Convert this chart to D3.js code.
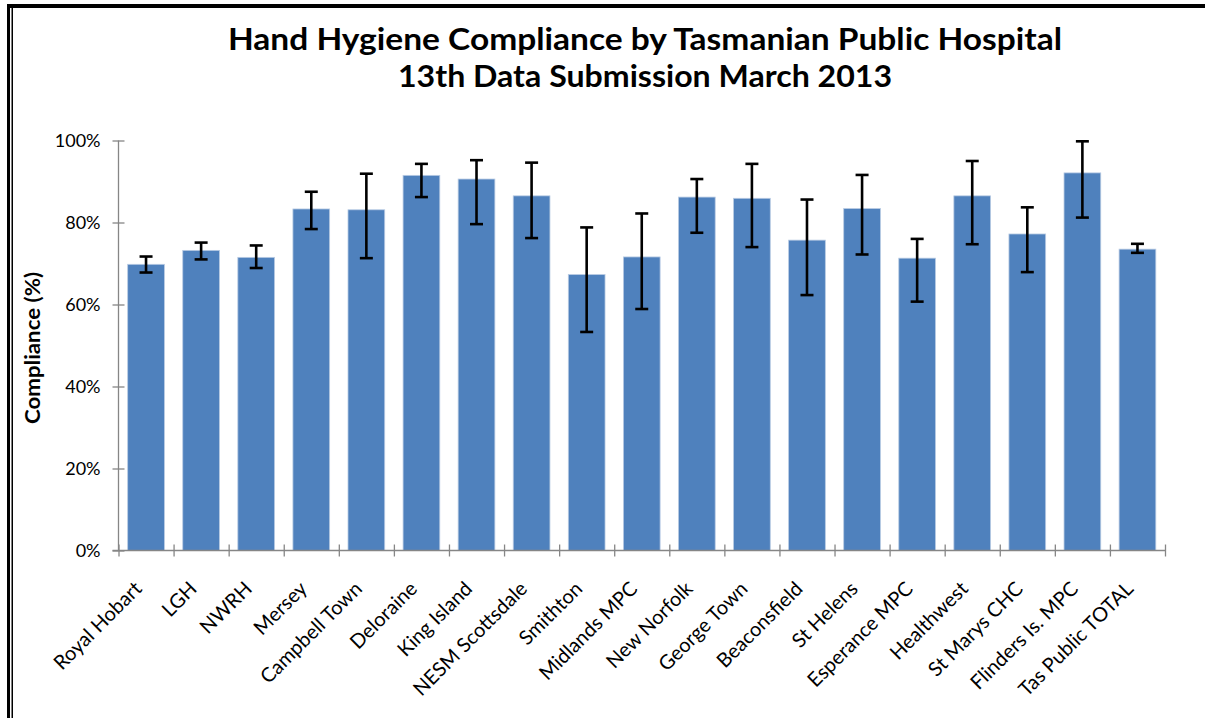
<!DOCTYPE html>
<html>
<head>
<meta charset="utf-8">
<script src="https://cdn.jsdelivr.net/npm/d3@7"></script>
<style>
  body { margin: 0; background: #fff; }
  svg { display: block; }
  text { font-family: Lato, "Open Sans", sans-serif; fill: #000; }
</style>
</head>
<body>
<svg id="chart" width="1205" height="718"></svg>
<script>
// datos
const hospitals = ["Royal Hobart", "LGH", "NWRH", "Mersey", "Campbell Town", "Deloraine",
  "King Island", "NESM Scottsdale", "Smithton", "Midlands MPC", "New Norfolk", "George Town",
  "Beaconsfield", "St Helens", "Esperance MPC", "Healthwest", "St Marys CHC",
  "Flinders Is. MPC", "Tas Public TOTAL"];
const compliance = [69.8, 73.2, 71.5, 83.3, 83.1, 91.5, 90.6, 86.5, 67.3, 71.6, 86.2, 85.9,
  75.7, 83.4, 71.3, 86.5, 77.2, 92.1, 73.5];
const ciLow  = [67.8, 71.0, 68.9, 78.4, 71.3, 86.2, 79.6, 76.2, 53.3, 58.9, 77.5, 74.0,
  62.3, 72.2, 60.7, 74.7, 67.9, 81.2, 72.6];
const ciHigh = [71.7, 75.1, 74.4, 87.5, 91.9, 94.3, 95.2, 94.6, 78.8, 82.2, 90.6, 94.3,
  85.6, 91.6, 76.0, 95.0, 83.7, 99.8, 74.8];
const yTicks = [0, 20, 40, 60, 80, 100];
const titleLines = ["Hand Hygiene Compliance by Tasmanian Public Hospital",
  "13th Data Submission March 2013"];
const titleWidths = [834, 494]; // ancho medido en la imagen

const svg = d3.select("#chart");

// marco (solo arriba e izquierda, como en la imagen)
svg.append("rect").attr("x", 7).attr("y", 4).attr("width", 1198).attr("height", 4).attr("fill", "#000");
svg.append("rect").attr("x", 7).attr("y", 4).attr("width", 3).attr("height", 714).attr("fill", "#000");
svg.append("rect").attr("x", 11.5).attr("y", 8).attr("width", 1.5).attr("height", 710).attr("fill", "#000");

// escalas
const plotLeft = 118.5, plotRight = 1165, plotTop = 140.5, plotBottom = 550.5;
const x = d3.scaleBand().domain(hospitals).range([plotLeft, plotRight]).paddingInner(1 / 3).paddingOuter(1 / 6);
const xEdge = d3.scaleLinear().domain([0, hospitals.length]).range([plotLeft, plotRight]);
const y = d3.scaleLinear().domain([0, 100]).range([plotBottom, plotTop]);

// título
svg.append("g").selectAll("text")
  .data(titleLines)
  .enter().append("text")
  .attr("x", 645)
  .attr("y", (d, i) => 50 + i * 37)
  .attr("text-anchor", "middle")
  .attr("textLength", (d, i) => titleWidths[i])
  .attr("lengthAdjust", "spacingAndGlyphs")
  .style("font-size", "31px")
  .style("font-weight", "bold")
  .text(d => d);

// barras
svg.append("g").selectAll("rect")
  .data(hospitals)
  .enter().append("rect")
  .attr("x", d => x(d))
  .attr("width", x.bandwidth())
  .attr("y", (d, i) => y(compliance[i]))
  .attr("height", (d, i) => y(0) - y(compliance[i]))
  .attr("fill", "#4f81bd")
  .attr("stroke", "#b9cbe3")
  .attr("stroke-width", 0.8);

// eje Y
const yAxis = svg.append("g")
  .attr("transform", `translate(${plotLeft},0)`)
  .call(d3.axisLeft(y).tickValues(yTicks).tickFormat(d => d + "%").tickSize(6).tickPadding(12));
yAxis.select(".domain").attr("stroke", "#868686").attr("stroke-width", 1.3).attr("d", `M0,${plotTop}V${plotBottom}`);
yAxis.selectAll(".tick line").attr("x1", -6).attr("x2", 6).attr("stroke", "#868686").attr("stroke-width", 1.3);
yAxis.selectAll(".tick text").style("font-size", "18px").style("fill", "#000")
  .attr("font-family", null);

// eje X (marcas en los bordes de las categorías)
const xAxis = svg.append("g")
  .attr("transform", `translate(0,${plotBottom})`)
  .call(d3.axisBottom(xEdge).tickValues(d3.range(hospitals.length + 1)).tickFormat("").tickSize(6));
xAxis.select(".domain").attr("stroke", "#868686").attr("stroke-width", 1.3).attr("d", `M${plotLeft - 6},0H${plotRight}`);
xAxis.selectAll(".tick line").attr("y1", -6).attr("y2", 6).attr("stroke", "#868686").attr("stroke-width", 1.3);

// etiquetas de categoría
svg.append("g").selectAll("text")
  .data(hospitals)
  .enter().append("text")
  .attr("transform", d => `translate(${x(d) + x.bandwidth() / 2 - 3},590) rotate(-45)`)
  .attr("text-anchor", "end")
  .style("font-size", "20px")
  .text(d => d);

// barras de error
const err = svg.append("g").attr("stroke", "#000").attr("stroke-width", 2.6);
hospitals.forEach((h, i) => {
  const cx = x(h) + x.bandwidth() / 2;
  err.append("line").attr("x1", cx).attr("x2", cx).attr("y1", y(ciLow[i])).attr("y2", y(ciHigh[i]));
  err.append("line").attr("x1", cx - 6.5).attr("x2", cx + 6.5).attr("y1", y(ciLow[i])).attr("y2", y(ciLow[i]));
  err.append("line").attr("x1", cx - 6.5).attr("x2", cx + 6.5).attr("y1", y(ciHigh[i])).attr("y2", y(ciHigh[i]));
});

// título del eje Y
svg.append("text")
  .attr("transform", "translate(40,348) rotate(-90)")
  .attr("text-anchor", "middle")
  .attr("textLength", 152)
  .attr("lengthAdjust", "spacingAndGlyphs")
  .style("font-size", "21px")
  .style("font-weight", "bold")
  .text("Compliance (%)");
</script>
</body>
</html>
